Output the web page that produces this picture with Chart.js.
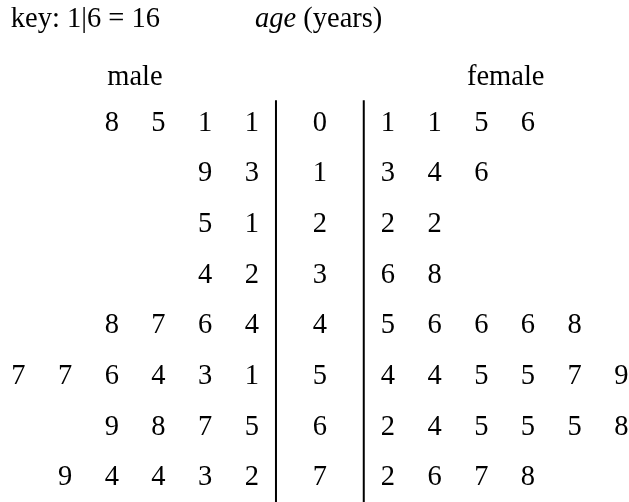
<!DOCTYPE html>
<html>
<head>
<meta charset="utf-8">
<script src="https://cdn.jsdelivr.net/npm/chart.js@4/dist/chart.umd.min.js"></script>
<style>
  html, body { margin: 0; padding: 0; background: #fff; }
</style>
</head>
<body>
<canvas id="c" width="629" height="502"></canvas>
<script>
// back-to-back stem and leaf: age (years)
const stems = [0, 1, 2, 3, 4, 5, 6, 7];
// leaves listed from the stem outwards
const maleLeaves = [
  [1, 1, 5, 8],
  [3, 9],
  [1, 5],
  [2, 4],
  [4, 6, 7, 8],
  [1, 3, 4, 6, 7, 7],
  [5, 7, 8, 9],
  [2, 3, 4, 4, 9],
];
const femaleLeaves = [
  [1, 1, 5, 6],
  [3, 4, 6],
  [2, 2],
  [6, 8],
  [5, 6, 6, 6, 8],
  [4, 4, 5, 5, 7, 9],
  [2, 4, 5, 5, 5, 8],
  [2, 6, 7, 8],
];
const groupLabels = ["male", "female"];
const keyText = "key: 1|6 = 16";

const FONT = '"Liberation Serif", "Times New Roman", serif';
const SIZE = 28.5;
const LEAF_OFFSET = 0.456; // first leaf sits a bit past one column from the stem
const RULE_X = 0.94;

function leafPoints(leaves, side) {
  const pts = [];
  leaves.forEach((row, i) => {
    row.forEach((leaf, k) => {
      pts.push({ x: side * (k + 1 + LEAF_OFFSET), y: stems[i], label: String(leaf) });
    });
  });
  return pts;
}

const stemPoints = stems.map(s => ({ x: 0, y: s, label: String(s) }));

const textPlugin = {
  id: "stemText",
  afterDatasetsDraw(chart) {
    const ctx = chart.ctx;
    const xs = chart.scales.x, ys = chart.scales.y;
    ctx.save();
    ctx.fillStyle = "#000";
    ctx.textBaseline = "middle";
    ctx.textAlign = "center";
    ctx.font = SIZE + "px " + FONT;
    chart.data.datasets.forEach((ds, di) => {
      if (!ds.isText) return;
      chart.getDatasetMeta(di).data.forEach((el, j) => {
        ctx.fillText(ds.data[j].label, el.x, el.y);
      });
    });
    // headers
    const headY = ys.getPixelForValue(-2.04);
    ctx.textAlign = "left";
    ctx.fillText(keyText, xs.getPixelForValue(-6.62), headY);
    let ax = xs.getPixelForValue(-1.39);
    ctx.font = "italic " + SIZE + "px " + FONT;
    ctx.fillText("age", ax, headY);
    ax += ctx.measureText("age ").width;
    ctx.font = SIZE + "px " + FONT;
    ctx.fillText("(years)", ax, headY);
    ctx.textAlign = "center";
    const gY = ys.getPixelForValue(-0.91);
    ctx.fillText(groupLabels[0], xs.getPixelForValue(-3.96), gY);
    ctx.fillText(groupLabels[1], xs.getPixelForValue(3.98), gY);
    ctx.restore();
  }
};

const ruleTop = -0.45, ruleBottom = 7.5;

new Chart(document.getElementById("c"), {
  type: "scatter",
  data: {
    datasets: [
      { isText: true, data: leafPoints(maleLeaves, -1), pointRadius: 0 },
      { isText: true, data: stemPoints, pointRadius: 0 },
      { isText: true, data: leafPoints(femaleLeaves, 1), pointRadius: 0 },
      {
        type: "line",
        data: [{ x: -RULE_X, y: ruleTop }, { x: -RULE_X, y: ruleBottom }],
        borderColor: "#000", borderWidth: 2, pointRadius: 0,
      },
      {
        type: "line",
        data: [{ x: RULE_X, y: ruleTop }, { x: RULE_X, y: ruleBottom }],
        borderColor: "#000", borderWidth: 2, pointRadius: 0,
      },
    ],
  },
  options: {
    responsive: false,
    animation: false,
    devicePixelRatio: 1,
    layout: { padding: 0 },
    plugins: { legend: { display: false }, tooltip: { enabled: false } },
    scales: {
      x: { type: "linear", display: false, min: -6.85, max: 6.62 },
      y: { type: "linear", display: false, reverse: true, min: -2.43, max: 7.475 },
    },
  },
  plugins: [textPlugin],
});
</script>
</body>
</html>
